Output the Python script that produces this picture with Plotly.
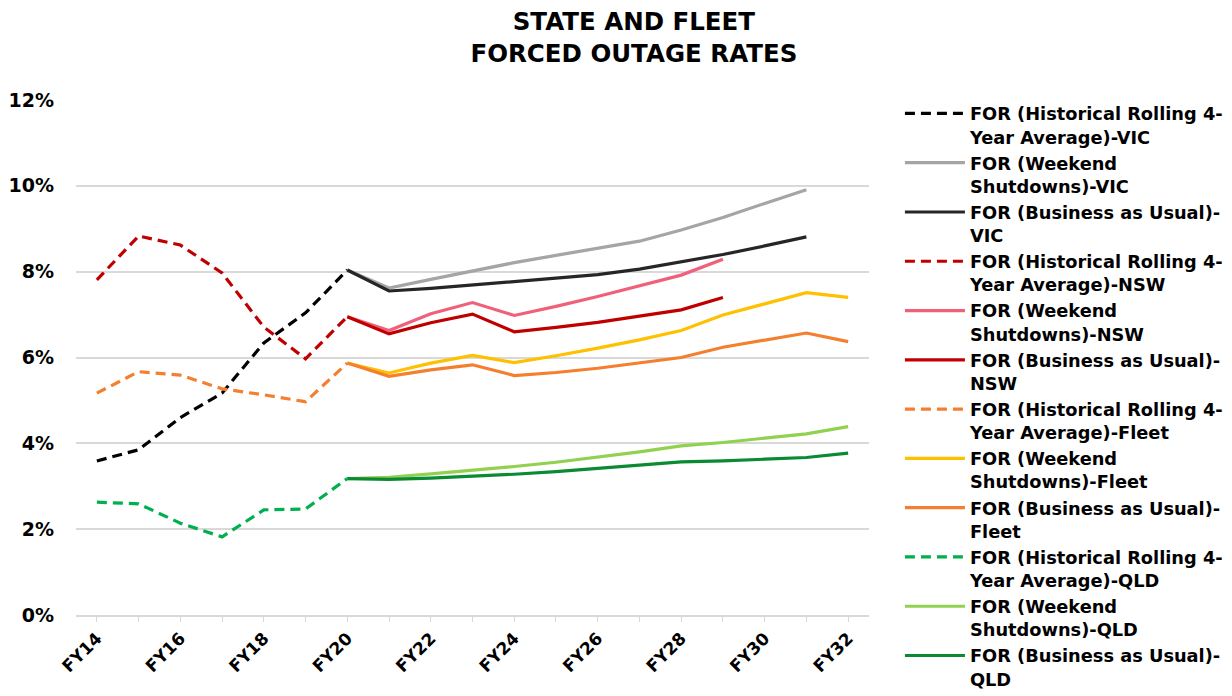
import plotly.graph_objects as go

categories = ["FY14", "FY15", "FY16", "FY17", "FY18", "FY19", "FY20", "FY21", "FY22", "FY23",
              "FY24", "FY25", "FY26", "FY27", "FY28", "FY29", "FY30", "FY31", "FY32"]
tick_labels = ["FY14", "", "FY16", "", "FY18", "", "FY20", "", "FY22", "", "FY24", "",
               "FY26", "", "FY28", "", "FY30", "", "FY32"]

N = None
vic_hist = [3.59, 3.85, 4.60, 5.17, 6.34, 7.04, 8.04] + [N] * 12
vic_weekend = [N] * 6 + [8.04, 7.62, 7.82, 8.02, 8.21, 8.38, 8.54, 8.71, 8.97, 9.26, 9.59, 9.91, N]
vic_bau = [N] * 6 + [8.04, 7.55, 7.61, 7.69, 7.77, 7.85, 7.93, 8.06, 8.23, 8.40, 8.60, 8.81, N]
nsw_hist = [7.81, 8.83, 8.62, 7.97, 6.71, 5.97, 6.95] + [N] * 12
nsw_weekend = [N] * 6 + [6.95, 6.63, 7.02, 7.28, 6.98, 7.19, 7.42, 7.67, 7.92, 8.29, N, N, N]
nsw_bau = [N] * 6 + [6.95, 6.55, 6.81, 7.01, 6.60, 6.70, 6.82, 6.97, 7.11, 7.40, N, N, N]
fleet_hist = [5.17, 5.67, 5.59, 5.27, 5.13, 4.97, 5.87] + [N] * 12
fleet_weekend = [N] * 6 + [5.87, 5.64, 5.87, 6.05, 5.88, 6.04, 6.22, 6.41, 6.63, 6.99, 7.25, 7.51, 7.40]
fleet_bau = [N] * 6 + [5.87, 5.56, 5.71, 5.83, 5.58, 5.65, 5.75, 5.87, 6.00, 6.24, 6.41, 6.57, 6.37]
qld_hist = [2.63, 2.59, 2.14, 1.82, 2.45, 2.47, 3.18] + [N] * 12
qld_weekend = [N] * 6 + [3.18, 3.21, 3.29, 3.37, 3.46, 3.56, 3.68, 3.80, 3.94, 4.02, 4.12, 4.22, 4.39]
qld_bau = [N] * 6 + [3.18, 3.16, 3.19, 3.23, 3.28, 3.34, 3.41, 3.49, 3.57, 3.59, 3.63, 3.67, 3.77]

series = [
    ("FOR (Historical Rolling 4-<br>Year Average)-VIC", vic_hist, "#000000", True),
    ("FOR (Weekend<br>Shutdowns)-VIC", vic_weekend, "#a5a5a5", False),
    ("FOR (Business as Usual)-<br>VIC", vic_bau, "#262626", False),
    ("FOR (Historical Rolling 4-<br>Year Average)-NSW", nsw_hist, "#c00000", True),
    ("FOR (Weekend<br>Shutdowns)-NSW", nsw_weekend, "#f0607a", False),
    ("FOR (Business as Usual)-<br>NSW", nsw_bau, "#c00000", False),
    ("FOR (Historical Rolling 4-<br>Year Average)-Fleet", fleet_hist, "#f47f2e", True),
    ("FOR (Weekend<br>Shutdowns)-Fleet", fleet_weekend, "#ffc000", False),
    ("FOR (Business as Usual)-<br>Fleet", fleet_bau, "#f47f2e", False),
    ("FOR (Historical Rolling 4-<br>Year Average)-QLD", qld_hist, "#00b050", True),
    ("FOR (Weekend<br>Shutdowns)-QLD", qld_weekend, "#92d050", False),
    ("FOR (Business as Usual)-<br>QLD", qld_bau, "#0a8a32", False),
]

FONT = "DejaVu Sans"
fig = go.Figure()
for name, vals, color, dashed in series:
    fig.add_trace(go.Scatter(
        x=categories, y=[v / 100 if v is not None else None for v in vals],
        mode="lines", name=name,
        line=dict(color=color, width=3.2, dash="10px,6px" if dashed else "solid"),
        connectgaps=False,
    ))

fig.update_layout(
    width=1232, height=696,
    paper_bgcolor="white", plot_bgcolor="white",
    margin=dict(l=68, r=371, t=92, b=89, autoexpand=False),
    title=dict(
        text="STATE AND FLEET<br>FORCED OUTAGE RATES",
        x=0.508, xanchor="center", xref="container",
        y=0.968, yanchor="top", yref="container",
        font=dict(family=FONT, size=24.5, color="black", weight="bold"),
    ),
    legend=dict(
        x=1.039, xanchor="left", y=1.009, yanchor="top",
        font=dict(family=FONT, size=17.8, color="black", weight="bold"),
        valign="top", tracegroupgap=0, itemwidth=60,
        bgcolor="rgba(0,0,0,0)", maxheight=1.0,
    ),
    showlegend=True,
)
fig.update_xaxes(
    type="category", categoryorder="array", categoryarray=categories,
    tickmode="array", tickvals=categories, ticktext=tick_labels,
    tickangle=-45,
    ticks="outside", ticklen=5, tickcolor="#d9d9d9",
    showline=True, linecolor="#d9d9d9", linewidth=1.5,
    showgrid=False, range=[-0.5, 18.5],
    tickfont=dict(family=FONT, size=17, color="black", weight="bold"),
)
fig.update_yaxes(
    range=[0, 0.12], dtick=0.02, tickformat=".0%",
    showgrid=True, gridcolor="#d9d9d9", gridwidth=1.5,
    zeroline=False, showline=False, ticks="",
    tickfont=dict(family=FONT, size=19, color="black", weight="bold"),
    ticklabelstandoff=21,
)

fig.write_html("out.html")
